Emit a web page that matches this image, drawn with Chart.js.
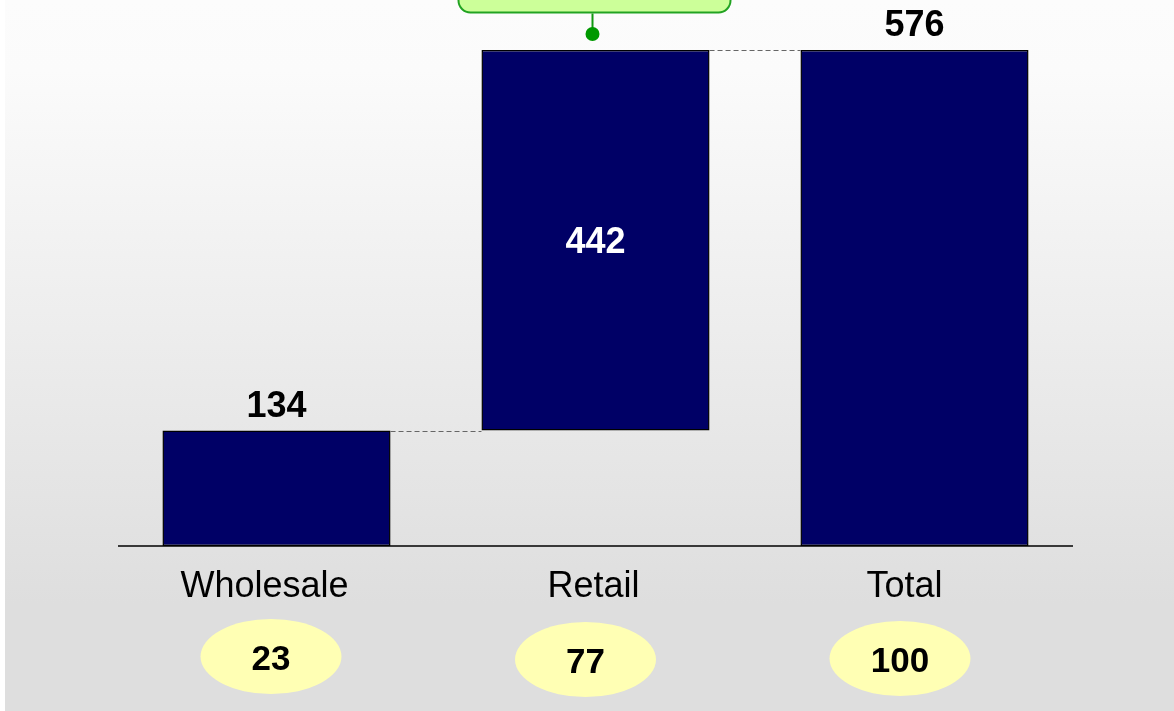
<!DOCTYPE html>
<html>
<head>
<meta charset="utf-8">
<script src="https://cdn.jsdelivr.net/npm/chart.js@4/dist/chart.umd.min.js"></script>
<style>
html,body{margin:0;padding:0;background:#fff;}
canvas{display:block;}
</style>
</head>
<body>
<canvas id="c" width="1174" height="711"></canvas>
<script>
// ---- data ----
const categories = ["Wholesale", "Retail", "Total"];
const barStart = [0, 134, 0];
const barEnd = [134, 576, 576];
const valueLabels = ["134", "442", "576"];
const shareLabels = ["23", "77", "100"];
const yMax = 576;

const FONT = '"Liberation Sans", Arial, Helvetica, sans-serif';

const waterfallPlugin = {
  id: 'waterfall',
  beforeDraw(chart) {
    const ctx = chart.ctx;
    const W = chart.width, H = chart.height;
    ctx.save();
    ctx.fillStyle = '#ffffff';
    ctx.fillRect(0, 0, W, H);
    const g = ctx.createLinearGradient(0, 0, 0, H);
    g.addColorStop(0, '#fcfcfc');
    g.addColorStop(0.1, '#fbfbfb');
    g.addColorStop(0.85, '#dedede');
    g.addColorStop(1, '#dedede');
    ctx.fillStyle = g;
    ctx.fillRect(5, 0, W - 5, H);
    ctx.restore();
  },
  afterDatasetsDraw(chart) {
    const ctx = chart.ctx;
    const x = chart.scales.x, y = chart.scales.y;
    const meta = chart.getDatasetMeta(0);
    const area = chart.chartArea;
    ctx.save();

    // dashed connectors
    ctx.strokeStyle = '#666666';
    ctx.lineWidth = 1;
    ctx.setLineDash([5, 3]);
    for (let i = 0; i < meta.data.length - 1; i++) {
      const a = meta.data[i], b = meta.data[i + 1];
      const yy = Math.round(y.getPixelForValue(barEnd[i])) + 0.5;
      ctx.beginPath();
      ctx.moveTo(a.x + a.width / 2, yy);
      ctx.lineTo(b.x - b.width / 2, yy);
      ctx.stroke();
    }
    ctx.setLineDash([]);

    // axis line
    ctx.strokeStyle = '#000';
    ctx.lineWidth = 1.5;
    ctx.beginPath();
    ctx.moveTo(area.left + 1, y.getPixelForValue(0));
    ctx.lineTo(area.right - 1, y.getPixelForValue(0));
    ctx.stroke();

    // value labels
    ctx.font = 'bold 36px ' + FONT;
    ctx.textAlign = 'center';
    ctx.textBaseline = 'alphabetic';
    meta.data.forEach((bar, i) => {
      if (i === 1) {
        const mid = (y.getPixelForValue(barStart[i]) + y.getPixelForValue(barEnd[i])) / 2;
        ctx.fillStyle = '#ffffff';
        ctx.fillText(valueLabels[i], bar.x, mid + 12.5);
      } else {
        ctx.fillStyle = '#000000';
        ctx.fillText(valueLabels[i], bar.x, y.getPixelForValue(barEnd[i]) - 14);
      }
    });

    // category labels
    const catDx = [-12, -2, -10];
    ctx.font = '36px ' + FONT;
    ctx.fillStyle = '#000';
    categories.forEach((c, i) => {
      ctx.fillText(c, x.getPixelForValue(i) + catDx[i], y.getPixelForValue(0) + 51);
    });

    // share ellipses
    const ellDx = [-5.5, -10, -14.5];
    const ellDy = [110.5, 113.5, 112.5];
    categories.forEach((c, i) => {
      const cx = x.getPixelForValue(i) + ellDx[i];
      const cy = y.getPixelForValue(0) + ellDy[i];
      ctx.fillStyle = '#ffffb4';
      ctx.beginPath();
      ctx.ellipse(cx, cy, 70.5, 37.5, 0, 0, Math.PI * 2);
      ctx.fill();
      ctx.fillStyle = '#000';
      ctx.font = 'bold 35px ' + FONT;
      ctx.fillText(shareLabels[i], cx, cy + 13.5);
    });

    // callout on Retail
    const rx = x.getPixelForValue(1) - 3;
    const topY = y.getPixelForValue(barEnd[1]);
    const bx0 = rx - 134, bx1 = rx + 138, by1 = topY - 37.5;
    ctx.fillStyle = '#ccff99';
    ctx.strokeStyle = '#22a322';
    ctx.lineWidth = 2;
    ctx.beginPath();
    ctx.roundRect(bx0, by1 - 60, bx1 - bx0, 60, 12);
    ctx.fill();
    ctx.stroke();
    ctx.strokeStyle = '#119911';
    ctx.beginPath();
    ctx.moveTo(rx, by1 + 1);
    ctx.lineTo(rx, topY - 16);
    ctx.stroke();
    ctx.fillStyle = '#009900';
    ctx.beginPath();
    ctx.arc(rx, topY - 16, 7, 0, Math.PI * 2);
    ctx.fill();

    ctx.restore();
  }
};

new Chart(document.getElementById('c'), {
  type: 'bar',
  data: {
    labels: categories,
    datasets: [{
      data: barStart.map((s, i) => [s, barEnd[i]]),
      backgroundColor: '#000066',
      borderColor: '#000000',
      borderWidth: 1.5,
      borderSkipped: false,
      categoryPercentage: 1,
      barPercentage: 0.715
    }]
  },
  options: {
    responsive: false,
    animation: false,
    layout: { padding: { left: 117, right: 100, top: 50, bottom: 165 } },
    plugins: { legend: { display: false }, tooltip: { enabled: false }, title: { display: false } },
    scales: {
      x: { display: false, offset: true },
      y: { display: false, min: 0, max: yMax }
    }
  },
  plugins: [waterfallPlugin]
});
</script>
</body>
</html>
